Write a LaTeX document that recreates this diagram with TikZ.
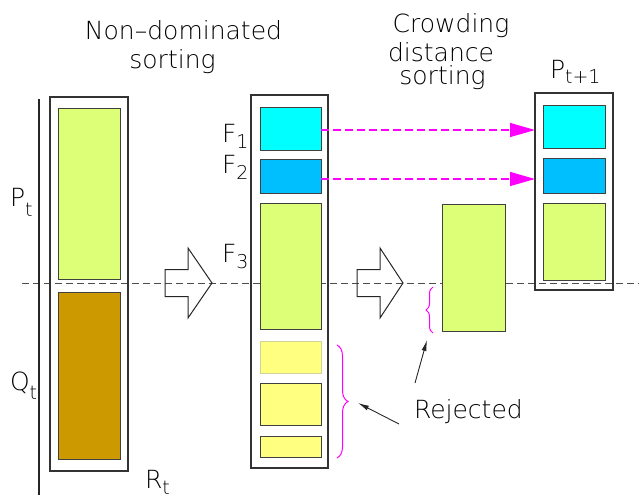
\documentclass[tikz,border=0pt]{standalone}
\usepackage{fontspec}
\setmainfont{DejaVu Sans ExtraLight}
\usetikzlibrary{arrows.meta,decorations.pathreplacing}

\definecolor{lime}{RGB}{221,255,119}
\definecolor{ochre}{RGB}{204,153,0}
\definecolor{aqua}{RGB}{0,255,255}
\definecolor{sky}{RGB}{0,191,255}
\definecolor{pale}{RGB}{255,255,128}
\definecolor{mag}{RGB}{255,0,255}

% lowered index in the label font
\newcommand\lowidx[2]{\raisebox{-#1}{\fontsize{19}{19}\selectfont #2}}

\begin{document}
\begin{tikzpicture}[x=1pt,y=-1pt,
  lbl/.style={font=\fontsize{25}{25}\selectfont, text=black, inner sep=0pt, outer sep=0pt},
  frame/.style={draw=black!80, line width=1.1pt, inner sep=0pt, outer sep=0pt},
  cell/.style={draw=black!75, line width=0.9pt, inner sep=0pt, outer sep=0pt},
  axis/.style={draw=black!70, line width=0.9pt, dash pattern=on 7pt off 4pt},
  hollow/.style={draw=black!85, line width=1pt, line join=miter},
  magline/.style={draw=mag, line width=1.1pt, dash pattern=on 8pt off 4pt,
    -{Triangle[length=25pt,width=14pt,sep=0pt]}},
  pointer/.style={draw=black!85, line width=0.9pt, -{Latex[length=11pt,width=5pt]}},
  bracefx/.style={draw=mag, line width=1pt, decorate}]
\useasboundingbox (0,0) rectangle (639,501);

% horizontal reference line
\coordinate (axL) at (22,283);
\coordinate (axR) at (639,283);
\draw[axis] (axL) -- (axR);

% R_t = P_t + Q_t
\draw[black!85, line width=2pt] (39,99) -- (39,495);
\node[frame, minimum width=78pt, minimum height=374pt] (Rt) at (89,284) {};
\node[cell, fill=lime, minimum width=62pt, minimum height=171pt] (Pt) at (89,193.5) {};
\node[cell, fill=ochre, minimum width=62pt, minimum height=167pt] (Qt) at (89,375.5) {};

% fronts after non-dominated sorting
\node[frame, minimum width=77pt, minimum height=373pt] (Fr) at (289.5,281.5) {};
\node[cell, fill=aqua, minimum width=61pt, minimum height=43pt] (F1) at (290.5,128.5) {};
\node[cell, fill=sky, minimum width=61pt, minimum height=34pt] (F2) at (290.5,176) {};
\node[cell, fill=lime, minimum width=61pt, minimum height=126pt] (F3) at (290.5,266) {};
\node[cell, draw=pale!70!black!60, fill=pale, minimum width=61pt, minimum height=32pt] (Y1) at (290.5,357) {};
\node[cell, fill=pale, minimum width=61pt, minimum height=42pt] (Y2) at (290.5,404) {};
\node[cell, fill=pale, minimum width=61pt, minimum height=21pt] (Y3) at (290.5,446.5) {};

% F3 after crowding distance sorting
\node[cell, fill=lime, minimum width=63pt, minimum height=127pt] (F3c) at (473.5,267.5) {};

% next population
\node[frame, minimum width=78pt, minimum height=197pt] (Pn) at (574,191.5) {};
\node[cell, fill=aqua, minimum width=62pt, minimum height=43pt] (N1) at (574,126.5) {};
\node[cell, fill=sky, minimum width=62pt, minimum height=35pt] (N2) at (574,175.5) {};
\node[cell, fill=lime, minimum width=62pt, minimum height=77pt] (N3) at (574,241.5) {};

% block arrows
\draw[hollow] (165,269.5) -- (188,269.5) -- (188,248) -- (212,283) -- (188,318)
  -- (188,296.5) -- (165,296.5) -- cycle;
\draw[hollow] (357,269.5) -- (380,269.5) -- (380,248) -- (403,283) -- (380,318)
  -- (380,296.5) -- (357,296.5) -- cycle;

% fronts copied directly
\draw[magline] ([yshift=-1.5pt]F1.east) -- ([yshift=-1.5pt]F1.east -| Pn.west);
\draw[magline] ([yshift=-3pt]F2.east) -- ([yshift=-3pt]F2.east -| Pn.west);

% rejected parts
\coordinate (bA) at (337,345);
\coordinate (bB) at (337,458);
\draw[bracefx, decoration={brace, amplitude=11pt}] (bA) -- (bB);
\coordinate (bC) at (433,333);
\coordinate (bD) at (433,287);
\draw[bracefx, decoration={brace, amplitude=7pt}] (bC) -- (bD);

% labels
\node[lbl, anchor=base] (tNa) at (183.5,39) {Non–dominated};
\node[lbl, anchor=base] (tNb) at (172.5,68) {sorting};
\node[lbl, anchor=base] (tCa) at (451,32) {Crowding};
\node[lbl, anchor=base] (tCb) at (441,61) {distance};
\node[lbl, anchor=base] (tCc) at (442.5,84) {sorting};
\node[lbl, anchor=base west] (lPn) at (550,78) {P\lowidx{5pt}{t+1}};
\node[lbl, anchor=base west] (lPt) at (10,206) {P\lowidx{10pt}{t}};
\node[lbl, anchor=base west] (lQt) at (10,390) {Q\lowidx{9pt}{t}};
\node[lbl, anchor=base west] (lRt) at (145,488) {R\lowidx{6pt}{t}};
\node[lbl, anchor=base west] (lF1) at (222,142) {F\lowidx{6pt}{1}};
\node[lbl, anchor=base west] (lF2) at (222,173) {F\lowidx{6pt}{2}};
\node[lbl, anchor=base west] (lF3) at (222,262) {F\lowidx{6pt}{3}};
\node[lbl, anchor=base west] (rej) at (414,418) {Rejected};

% pointers to the rejected parts
\coordinate (pA) at (399,424);
\coordinate (pB) at (415,383);
\draw[pointer] (pA) -- (358,403);
\draw[pointer] (pB) -- (427,340);
\end{tikzpicture}
\end{document}
